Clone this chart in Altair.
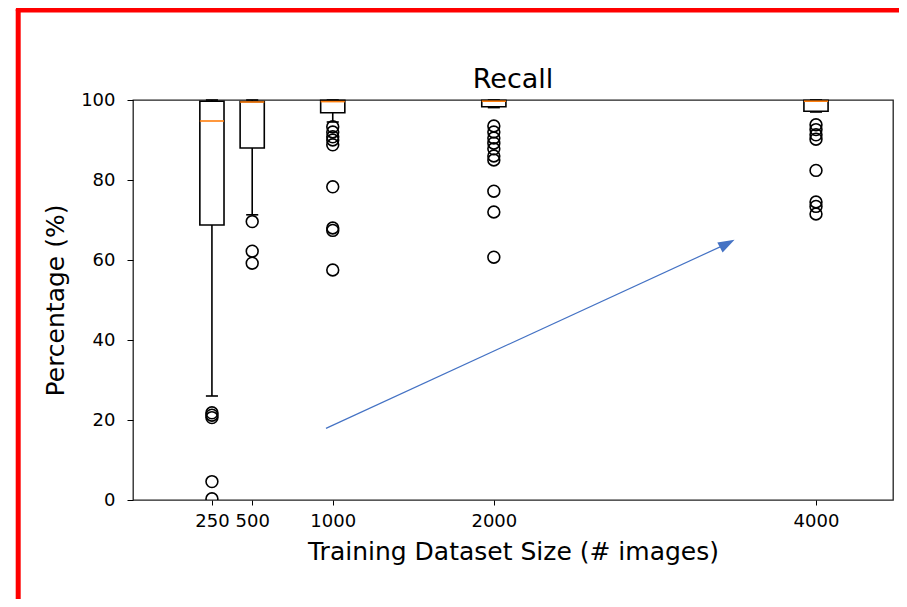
import altair as alt
import pandas as pd

# ---- data ----
sizes = [250, 500, 1000, 2000, 4000]
q1 = [68.75, 88.0, 96.8, 98.3, 97.2]
median = [94.75, 99.5, 99.6, 99.7, 99.7]
q3 = [99.7, 99.6, 99.9, 99.9, 99.9]
whisker_low = [26.0, 71.3, 94.5, 98.1, 97.0]
whisker_high = [100.0, 100.0, 100.0, 100.0, 100.0]

outliers_250 = [21.8, 21.2, 20.6, 4.6, 0.3]
outliers_500 = [69.6, 62.2, 59.2]
outliers_1000 = [93.3, 92.0, 90.8, 90.0, 88.8, 78.3, 68.0, 67.4, 57.5]
outliers_2000 = [93.5, 92.0, 90.5, 89.2, 87.8, 86.0, 85.0, 77.2, 72.0, 60.7]
outliers_4000 = [93.8, 92.6, 91.3, 90.2, 82.4, 74.5, 73.4, 71.5]

y_ticks = [0, 20, 40, 60, 80, 100]

arrow_x = [958, 3449]
arrow_y = [17.9, 64.1]

chart_title = "Recall"

# ---- tables ----
stats = pd.DataFrame({
    "pos": sizes, "q1": q1, "med": median, "q3": q3,
    "wlo": whisker_low, "whi": whisker_high,
})
out_rows = []
for s, vals in zip(sizes, [outliers_250, outliers_500, outliers_1000,
                           outliers_2000, outliers_4000]):
    for v in vals:
        out_rows.append({"pos": s, "val": v})
outs = pd.DataFrame(out_rows)
arrow_line = pd.DataFrame({"x0": [arrow_x[0]], "y0": [arrow_y[0]],
                           "x1": [arrow_x[1]], "y1": [arrow_y[1]]})
arrow_head = pd.DataFrame({"x": [arrow_x[1]], "y": [arrow_y[1]]})

FONT = "DejaVu Sans"
BOX_HALF = 75
CAP_HALF = 37.5

xscale = alt.Scale(domain=[-240, 4478], nice=False, zero=False)
yscale = alt.Scale(domain=[0, 100], nice=False)
xaxis = alt.Axis(values=sizes, format="d", title="Training Dataset Size (# images)",
                 grid=False, domain=False, tickColor="black", tickSize=5,
                 labelFontSize=18, labelColor="black", labelPadding=7,
                 titleFontSize=25, titleFontWeight="normal", titleColor="black",
                 titlePadding=9, labelFont=FONT, titleFont=FONT, labelFlush=False,
                 labelOverlap=False)
yaxis = alt.Axis(values=y_ticks, format="d", title="Percentage (%)", grid=False,
                 domain=False, tickColor="black", tickSize=6, labelFontSize=18,
                 labelColor="black", labelPadding=12, titleFontSize=25,
                 titleFontWeight="normal", titleColor="black", titlePadding=12,
                 labelFont=FONT, titleFont=FONT, labelFlush=False)

def X(field):
    return alt.X(field, type="quantitative", scale=xscale, axis=xaxis,
                 title="Training Dataset Size (# images)")

def Y(field):
    return alt.Y(field, type="quantitative", scale=yscale, axis=yaxis,
                 title="Percentage (%)")

base = alt.Chart(stats).transform_calculate(
    bl=alt.datum.pos - BOX_HALF, br=alt.datum.pos + BOX_HALF,
    cl=alt.datum.pos - CAP_HALF, cr=alt.datum.pos + CAP_HALF,
)

whisk_lo = base.mark_rule(color="black", strokeWidth=1.6).encode(
    x=X("pos"), y=Y("wlo"), y2="q1")
whisk_hi = base.mark_rule(color="black", strokeWidth=1.6).encode(
    x=X("pos"), y=Y("q3"), y2="whi")
cap_lo = base.mark_rule(color="black", strokeWidth=1.6).encode(
    x=X("cl"), x2="cr", y=Y("wlo"))
cap_hi = base.mark_rule(color="black", strokeWidth=1.6).encode(
    x=X("cl"), x2="cr", y=Y("whi"))
box = base.mark_rect(fill="white", stroke="black", strokeWidth=1.6).encode(
    x=X("bl"), x2="br", y=Y("q1"), y2="q3")
med = base.mark_rule(color="#ff7f0e", strokeWidth=1.6).encode(
    x=X("bl"), x2="br", y=Y("med"))

points = alt.Chart(outs).mark_point(
    shape="circle", filled=False, color="black", size=140, strokeWidth=1.6,
    opacity=1, clip=True).encode(x=X("pos"), y=Y("val"))

arrow = alt.Chart(arrow_line).mark_rule(color="#4472C4", strokeWidth=1.2).encode(
    x=X("x0"), x2="x1", y=Y("y0"), y2="y1")
head = alt.Chart(arrow_head).mark_point(
    shape="M0,-1L0.68,1L-0.68,1Z", filled=True, color="#4472C4", size=272,
    angle=62, opacity=1).encode(x=X("x"), y=Y("y"))

one = pd.DataFrame({"t": [chart_title]})
title_mark = alt.Chart(one).mark_text(
    font=FONT, fontSize=27, color="black", align="center",
    baseline="alphabetic").encode(
    x=alt.value(380), y=alt.value(-12), text="t:N")
red_left = alt.Chart(one).mark_rule(color="#ff0000", strokeWidth=5,
                                    strokeCap="round").encode(
    x=alt.value(-114.8), y=alt.value(-90), y2=alt.value(520))
red_top = alt.Chart(one).mark_rule(color="#ff0000", strokeWidth=5,
                                   strokeCap="round").encode(
    x=alt.value(-114.8), x2=alt.value(790), y=alt.value(-90))

chart = alt.layer(
    whisk_lo, whisk_hi, cap_lo, cap_hi, box, med, points, arrow, head,
    title_mark, red_left, red_top,
).properties(
    width=760, height=400,
    padding={"left": 125, "top": 92, "right": 6, "bottom": 99},
    autosize=alt.AutoSizeParams(type="none"),
).configure(background="white").configure_view(stroke="#222222", strokeWidth=1.3)

chart.save("out.html", embed_options={"renderer": "svg", "actions": False})
